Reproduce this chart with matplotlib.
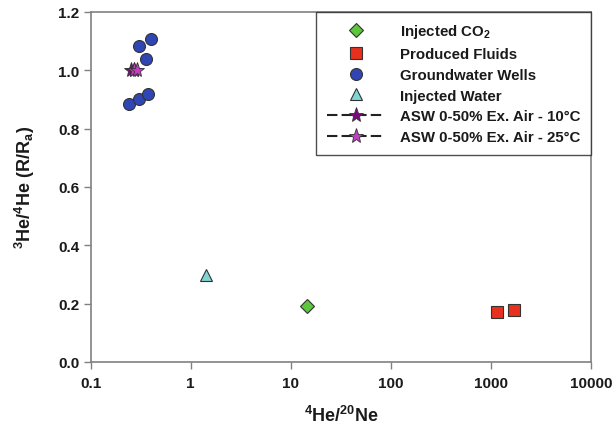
import matplotlib
matplotlib.use("Agg")
import matplotlib.pyplot as plt

plt.rcParams['font.family'] = ['Liberation Sans', 'DejaVu Sans']
plt.rcParams['font.weight'] = 'bold'
plt.rcParams['mathtext.fontset'] = 'custom'
plt.rcParams['mathtext.rm'] = 'Liberation Sans:bold'
plt.rcParams['mathtext.it'] = 'Liberation Sans:bold'
plt.rcParams['mathtext.bf'] = 'Liberation Sans:bold'
plt.rcParams['mathtext.default'] = 'regular'

# He/Ne ratio (x) and 3He/4He in R/Ra (y) for each sample group
co2_x = [14.4]
co2_y = [0.193]

fluids_x = [1140, 1710]
fluids_y = [0.172, 0.179]

wells_x = [0.305, 0.399, 0.356, 0.244, 0.305, 0.372]
wells_y = [1.084, 1.108, 1.037, 0.884, 0.900, 0.918]

water_x = [1.42]
water_y = [0.299]

asw10_x = [0.255, 0.272]
asw10_y = [1.000, 1.000]

asw25_x = [0.270, 0.290]
asw25_y = [1.000, 1.002]

labels = ["Injected CO$_2$", "Produced Fluids", "Groundwater Wells",
          "Injected Water", "ASW 0-50% Ex. Air - 10°C",
          "ASW 0-50% Ex. Air - 25°C"]

xticks = [0.1, 1, 10, 100, 1000, 10000]
xticklabels = ["0.1", "1", "10", "100", "1000", "10000"]
yticks = [0.0, 0.2, 0.4, 0.6, 0.8, 1.0, 1.2]

fig = plt.figure(figsize=(6.12, 4.31), dpi=100)
ax = fig.add_axes([0.148, 0.158, 0.818, 0.812])

edge = '#333333'
ax.plot(co2_x, co2_y, linestyle='none', marker='D', markersize=7.5,
        markerfacecolor='#5cc63c', markeredgecolor=edge, markeredgewidth=0.8,
        label=labels[0], zorder=3)
ax.plot(fluids_x, fluids_y, linestyle='none', marker='s', markersize=8.2,
        markerfacecolor='#e8301e', markeredgecolor=edge, markeredgewidth=0.8,
        label=labels[1], zorder=3)
ax.plot(wells_x, wells_y, linestyle='none', marker='o', markersize=8.6,
        markerfacecolor='#3046b4', markeredgecolor=edge, markeredgewidth=0.8,
        label=labels[2], zorder=3)
ax.plot(water_x, water_y, linestyle='none', marker='^', markersize=8.5,
        markerfacecolor='#80d4d4', markeredgecolor=edge, markeredgewidth=0.8,
        label=labels[3], zorder=3)
ax.plot(asw10_x, asw10_y, linestyle=(0, (5, 2)), color='#222222', linewidth=1.5,
        marker='*', markersize=11, markerfacecolor='#7a0a7a',
        markeredgecolor=edge, markeredgewidth=0.6, label=labels[4], zorder=4)
ax.plot(asw25_x, asw25_y, linestyle=(0, (5, 2)), color='#222222', linewidth=1.5,
        marker='*', markersize=11, markerfacecolor='#c040c0',
        markeredgecolor=edge, markeredgewidth=0.6, label=labels[5], zorder=4)

ax.set_xscale('log')
ax.set_xlim(0.1, 10000)
ax.set_ylim(0.0, 1.2)
ax.set_xticks(xticks)
ax.set_xticklabels(xticklabels)
ax.xaxis.set_minor_locator(matplotlib.ticker.NullLocator())
ax.set_yticks(yticks)
ax.set_yticklabels([f"{v:.1f}" for v in yticks])

for s in ax.spines.values():
    s.set_color('#808080')
    s.set_linewidth(1.2)
ax.tick_params(axis='both', which='major', direction='out', length=5,
               width=1.0, color='#808080', labelsize=11, labelcolor='#1a1a1a',
               pad=3)
ax.tick_params(axis='x', pad=5)

ax.set_xlabel("$^{4}$He/$^{20}$Ne", fontsize=13, fontweight='bold',
              color='#1a1a1a', labelpad=11)
ax.set_ylabel("$^{3}$He/$^{4}$He (R/R$_{a}$)", fontsize=13, fontweight='bold',
              color='#1a1a1a', labelpad=15)

leg = ax.legend(loc='upper right', bbox_to_anchor=(1.0, 1.0), borderaxespad=0,
                fontsize=10.8, frameon=True, fancybox=False, handlelength=3.9,
                handletextpad=1.0, labelspacing=0.45, borderpad=0.7)
leg.get_frame().set_edgecolor('#222222')
leg.get_frame().set_linewidth(1.0)
for t in leg.get_texts():
    t.set_fontweight('bold')
    t.set_color('#1a1a1a')

fig.savefig("out.png", dpi=100)
